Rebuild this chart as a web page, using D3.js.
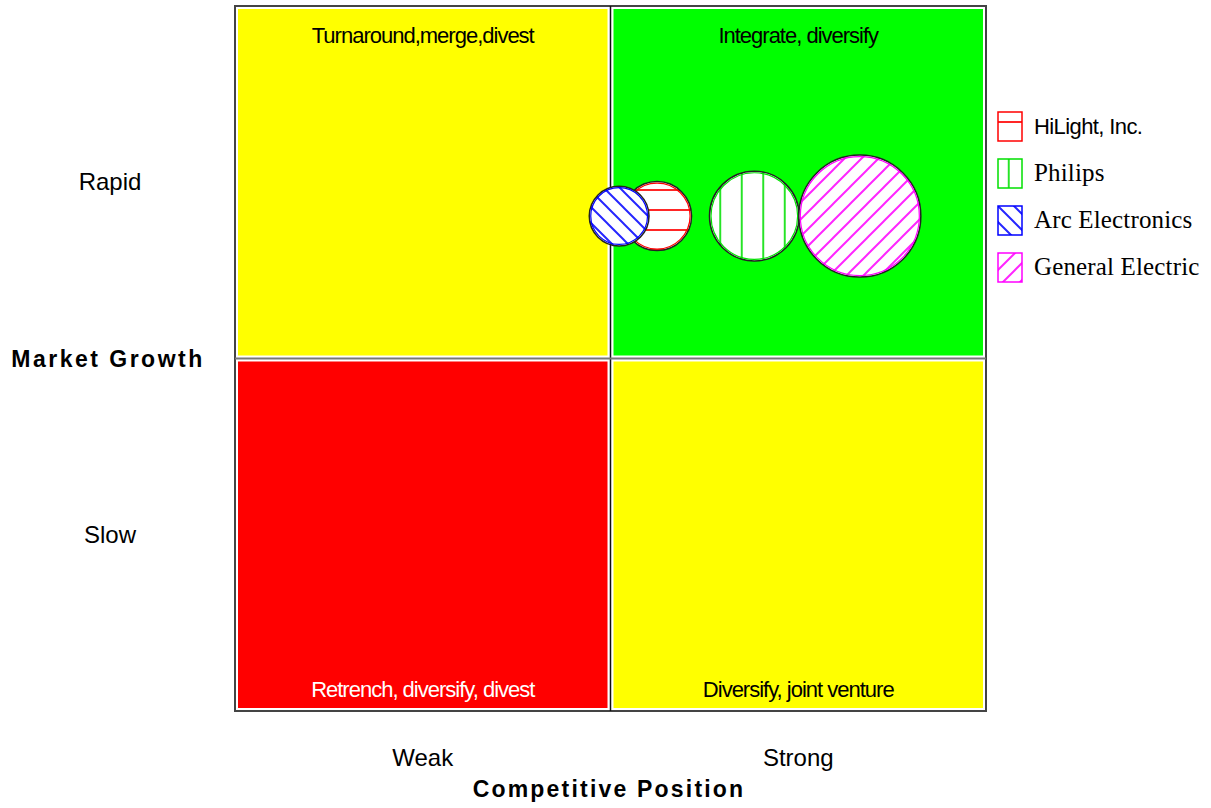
<!DOCTYPE html>
<html>
<head>
<meta charset="utf-8">
<script src="https://cdn.jsdelivr.net/npm/d3@7"></script>
<style>
  body { margin: 0; background: #fff; }
  svg text { font-family: Arial, "Liberation Sans", sans-serif; }
</style>
</head>
<body>
<svg id="chart"></svg>
<script>
// quadrant categories
var xCategories = ["Weak", "Strong"];
var yCategories = ["Slow", "Rapid"];
var quadrantLabels = ["Retrench, diversify, divest", "Diversify, joint venture",
                      "Turnaround,merge,divest", "Integrate, diversify"];
var quadrantColors = ["#ff0000", "#ffff00", "#ffff00", "#00ff00"];
var quadrantText = ["#fff", "#000", "#000", "#000"];

// companies
var companies = ["HiLight, Inc.", "Philips", "Arc Electronics", "General Electric"];
var compX = [1.124, 1.383, 1.023, 1.664];
var compY = [1.404, 1.404, 1.404, 1.404];
var compSize = [32, 54, 24, 100];
var compColors = ["#ff0000", "#00e000", "#0000ff", "#ff00ff"];

var svgWidth = 1211, svgHeight = 808;
var svg = d3.select("#chart").attr("width", svgWidth).attr("height", svgHeight);

var x = d3.scaleLinear().domain([0, 2]).range([235, 986]);
var y = d3.scaleLinear().domain([0, 2]).range([711, 6]);
var r = d3.scaleSqrt().domain([0, 100]).range([0, 61]);

/* patterns */
var defs = svg.append("defs");
function hatch(id, w, h, color, path) {
  var p = defs.append("pattern").attr("id", id)
    .attr("patternUnits", "userSpaceOnUse").attr("width", w).attr("height", h);
  p.append("rect").attr("width", w).attr("height", h).attr("fill", "#fff");
  p.append("path").attr("d", path).attr("stroke", color).attr("stroke-width", 2)
    .attr("stroke-opacity", 0.85).attr("fill", "none");
}
hatch("p0", 20, 20, compColors[0], "M0,10H20");
hatch("p1", 21.5, 21.5, compColors[1], "M10.75,0V21.5");
hatch("p2", 16, 16, compColors[2], "M-4,-4L20,20M-4,12L4,20M12,-4L20,4");
hatch("p3", 17, 17, compColors[3], "M-4,21L21,-4M-4,4L4,-4M13,21L21,13");

/* quadrants */
var cells = d3.range(4).map(function(i) {
  return { col: i % 2, row: Math.floor(i / 2), label: quadrantLabels[i],
           color: quadrantColors[i], text: quadrantText[i] };
});

svg.selectAll("rect.cell").data(cells).enter().append("rect")
  .attr("class", "cell")
  .attr("x", function(d) { return x(d.col) + 3; })
  .attr("y", function(d) { return y(d.row + 1) + 3; })
  .attr("width", function(d) { return x(d.col + 1) - x(d.col) - 6; })
  .attr("height", function(d) { return y(d.row) - y(d.row + 1) - 6; })
  .attr("fill", function(d) { return d.color; });

svg.selectAll("text.qlabel").data(cells).enter().append("text")
  .attr("class", "qlabel")
  .attr("x", function(d) { return x(d.col + 0.5); })
  .attr("y", function(d) { return d.row == 1 ? y(2) + 37 : y(0) - 14; })
  .attr("text-anchor", "middle")
  .attr("font-size", 22)
  .attr("letter-spacing", -1)
  .attr("fill", function(d) { return d.text; })
  .text(function(d) { return d.label; });

// frame and dividers
svg.append("rect")
  .attr("x", x(0)).attr("y", y(2))
  .attr("width", x(2) - x(0)).attr("height", y(0) - y(2))
  .attr("fill", "none").attr("stroke", "#444").attr("stroke-width", 2);
svg.append("line")
  .attr("x1", x(1)).attr("x2", x(1)).attr("y1", y(2)).attr("y2", y(0))
  .attr("stroke", "#111").attr("stroke-width", 1.5);
svg.append("line")
  .attr("x1", x(0)).attr("x2", x(2)).attr("y1", y(1)).attr("y2", y(1))
  .attr("stroke", "#777").attr("stroke-width", 2);

/* bubbles */
var bubbles = companies.map(function(c, i) {
  return { name: c, x: compX[i], y: compY[i], size: compSize[i], color: compColors[i], pat: "url(#p" + i + ")" };
});
var order = [0, 1, 3, 2];
var bg = svg.selectAll("g.bubble").data(order.map(function(i) { return bubbles[i]; }))
  .enter().append("g").attr("class", "bubble");
bg.append("circle")
  .attr("cx", function(d) { return x(d.x); })
  .attr("cy", function(d) { return y(d.y); })
  .attr("r", function(d) { return r(d.size); })
  .attr("fill", function(d) { return d.pat; })
  .attr("stroke", "#222").attr("stroke-width", 1.5);
bg.append("circle")
  .attr("cx", function(d) { return x(d.x); })
  .attr("cy", function(d) { return y(d.y); })
  .attr("r", function(d) { return r(d.size) - 1.5; })
  .attr("fill", "none")
  .attr("stroke", function(d) { return d.color; }).attr("stroke-width", 1.2);

/* legend */
var legend = svg.selectAll("g.legend").data(bubbles).enter().append("g")
  .attr("class", "legend")
  .attr("transform", function(d, i) { return "translate(998," + (112 + i * 47) + ")"; });
legend.append("rect")
  .attr("width", 24).attr("height", 29)
  .attr("fill", function(d) { return d.pat; })
  .attr("stroke", function(d) { return d.color; }).attr("stroke-width", 1.5);
legend.append("text")
  .attr("x", 36).attr("y", 22)
  .attr("font-size", function(d, i) { return i == 0 ? 22 : 25; })
  .attr("letter-spacing", function(d, i) { return i == 0 ? -0.6 : 0.15; })
  .style("font-family", function(d, i) { return i == 0 ? "Arial, 'Liberation Sans', sans-serif" : "'Times New Roman', 'Liberation Serif', serif"; })
  .attr("fill", "#000")
  .text(function(d) { return d.name; });

/* axis labels */
svg.selectAll("text.ycat").data(yCategories).enter().append("text")
  .attr("class", "ycat")
  .attr("x", 110).attr("y", function(d, i) { return y(i + 0.5) + 8; })
  .attr("text-anchor", "middle").attr("font-size", 24)
  .text(function(d) { return d; });
svg.selectAll("text.xcat").data(xCategories).enter().append("text")
  .attr("class", "xcat")
  .attr("x", function(d, i) { return x(i + 0.5); }).attr("y", 766)
  .attr("text-anchor", "middle").attr("font-size", 24)
  .text(function(d) { return d; });

svg.append("text")
  .attr("x", 108).attr("y", 367)
  .attr("text-anchor", "middle").attr("font-size", 23).attr("font-weight", "bold")
  .attr("letter-spacing", 2.5)
  .text("Market Growth");
svg.append("text")
  .attr("x", 609).attr("y", 797)
  .attr("text-anchor", "middle").attr("font-size", 23).attr("font-weight", "bold")
  .attr("letter-spacing", 2.2)
  .text("Competitive Position");
</script>
</body>
</html>
